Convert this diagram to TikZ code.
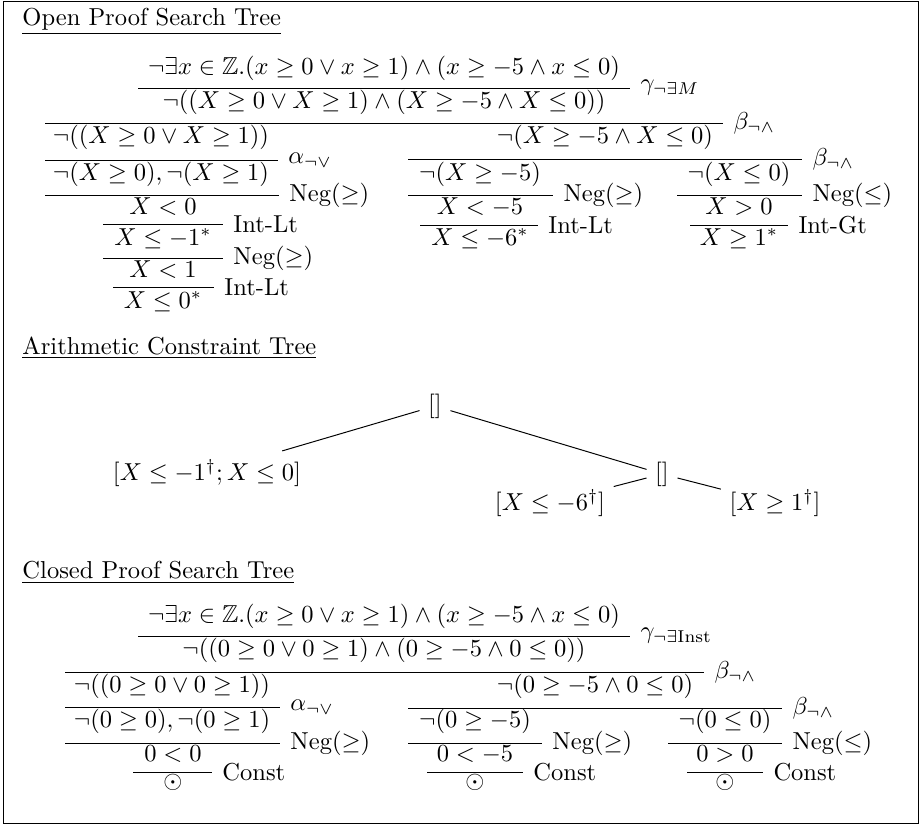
\documentclass[tikz,border=0pt]{standalone}
\usepackage{amssymb}
\begin{document}
\begin{tikzpicture}[x=0.408pt,y=-0.408pt,
  fml/.style={inner sep=0pt, anchor=base},
  lbl/.style={inner sep=0pt, anchor=west},
  infr/.style={line width=0.4pt},
  ttl/.style={inner sep=0pt, anchor=base west},
  ctn/.style={inner sep=0.3333em},
  cedge/.style={line width=0.4pt}]
\useasboundingbox (0,0) rectangle (920,825);
\draw[line width=0.4pt] (3,1) rectangle (918,823);

% ---------- rules (name, x1, x2, y) ----------
\foreach \n/\a/\b/\yy in {
  oR1/138/630/88, oR2/45/723/123, oR3/45/278/160, oR4/45/279/195,
  oR5/103/223/224, oR6/103/223/258, oR7/113/214/287,
  oR8/408/802/159, oR9/408/553/195, oR10/420/538/225,
  oR11/677/802/195, oR12/690/788/225,
  dR1/138/630/636, dR2/65/704/672, dR3/65/280/707, dR4/65/280/743,
  dR5/133/212/772, dR6/408/782/708, dR7/408/542/743, dR8/427/523/772,
  dR9/668/782/743, dR10/687/763/772}
{
  \coordinate (\n a) at (\a,\yy);
  \coordinate (\n b) at (\b,\yy);
  \draw[infr] (\n a) -- (\n b);
}

% ---------- Open proof search tree ----------
\node[ttl] (t1) at (22,25) {\underline{Open Proof Search Tree}};
\node[fml] (o1) at (384,74) {$\neg\exists x\in\mathbb{Z}.(x\geq 0\vee x\geq 1)\wedge(x\geq -5\wedge x\leq 0)$};
\node[lbl] (oL1) at (640,88) {$\gamma_{\neg\exists M}$};
\node[fml] (o2) at (384,108) {$\neg((X\geq 0\vee X\geq 1)\wedge(X\geq -5\wedge X\leq 0))$};
\node[lbl] (oL2) at (733,123) {$\beta_{\neg\wedge}$};
\node[fml] (o3) at (161,143) {$\neg((X\geq 0\vee X\geq 1))$};
\node[lbl] (oL3) at (288,160) {$\alpha_{\neg\vee}$};
\node[fml] (o4) at (161,180) {$\neg(X\geq 0),\neg(X\geq 1)$};
\node[lbl] (oL4) at (289,195) {Neg($\geq$)};
\node[fml] (o5) at (163,214) {$X<0$};
\node[lbl] (oL5) at (233,224) {Int-Lt};
\node[fml] (o6) at (163,245) {$X\leq -1^*$};
\node[lbl] (oL6) at (233,258) {Neg($\geq$)};
\node[fml] (o7) at (163,277) {$X<1$};
\node[lbl] (oL7) at (224,287) {Int-Lt};
\node[fml] (o8) at (163,308) {$X\leq 0^*$};

\node[fml] (o9) at (605,143) {$\neg(X\geq -5\wedge X\leq 0)$};
\node[lbl] (oL8) at (812,159) {$\beta_{\neg\wedge}$};
\node[fml] (o10) at (480,180) {$\neg(X\geq -5)$};
\node[lbl] (oL9) at (563,195) {Neg($\geq$)};
\node[fml] (o11) at (480,214) {$X<-5$};
\node[lbl] (oL10) at (548,225) {Int-Lt};
\node[fml] (o12) at (480,245) {$X\leq -6^*$};
\node[fml] (o13) at (739,180) {$\neg(X\leq 0)$};
\node[lbl] (oL11) at (812,195) {Neg($\leq$)};
\node[fml] (o14) at (739,214) {$X>0$};
\node[lbl] (oL12) at (798,225) {Int-Gt};
\node[fml] (o15) at (739,245) {$X\geq 1^*$};

% ---------- Arithmetic constraint tree ----------
\node[ttl] (t2) at (22,354) {\underline{Arithmetic Constraint Tree}};
\node[ctn] (c0) at (435,406) {$[]$};
\node[ctn] (c1) at (207,473) {$[X\leq -1^\dagger; X\leq 0]$};
\node[ctn] (c2) at (662,474) {$[]$};
\node[ctn] (c3) at (550,503) {$[X\leq -6^\dagger]$};
\node[ctn] (c4) at (775,503) {$[X\geq 1^\dagger]$};
\draw[cedge] (c0) -- (c1);
\draw[cedge] (c0) -- (c2);
\draw[cedge] (c2) -- (c3);
\draw[cedge] (c2) -- (c4);

% ---------- Closed proof search tree ----------
\node[ttl] (t3) at (22,578) {\underline{Closed Proof Search Tree}};
\node[fml] (d1) at (384,622) {$\neg\exists x\in\mathbb{Z}.(x\geq 0\vee x\geq 1)\wedge(x\geq -5\wedge x\leq 0)$};
\node[lbl] (dL1) at (640,636) {$\gamma_{\neg\exists\mathrm{Inst}}$};
\node[fml] (d2) at (384,656) {$\neg((0\geq 0\vee 0\geq 1)\wedge(0\geq -5\wedge 0\leq 0))$};
\node[lbl] (dL2) at (714,672) {$\beta_{\neg\wedge}$};
\node[fml] (d3) at (172,692) {$\neg((0\geq 0\vee 0\geq 1))$};
\node[lbl] (dL3) at (290,707) {$\alpha_{\neg\vee}$};
\node[fml] (d4) at (172,727) {$\neg(0\geq 0),\neg(0\geq 1)$};
\node[lbl] (dL4) at (290,743) {Neg($\geq$)};
\node[fml] (d5) at (173,761) {$0<0$};
\node[lbl] (dL5) at (222,772) {Const};
\node[fml] (d6) at (173,788) {$\odot$};

\node[fml] (d7) at (595,692) {$\neg(0\geq -5\wedge 0\leq 0)$};
\node[lbl] (dL6) at (792,708) {$\beta_{\neg\wedge}$};
\node[fml] (d8) at (475,727) {$\neg(0\geq -5)$};
\node[lbl] (dL7) at (552,743) {Neg($\geq$)};
\node[fml] (d9) at (475,761) {$0<-5$};
\node[lbl] (dL8) at (533,772) {Const};
\node[fml] (d10) at (475,788) {$\odot$};
\node[fml] (d11) at (725,727) {$\neg(0\leq 0)$};
\node[lbl] (dL9) at (792,743) {Neg($\leq$)};
\node[fml] (d12) at (725,761) {$0>0$};
\node[lbl] (dL10) at (773,772) {Const};
\node[fml] (d13) at (725,788) {$\odot$};
\end{tikzpicture}
\end{document}
